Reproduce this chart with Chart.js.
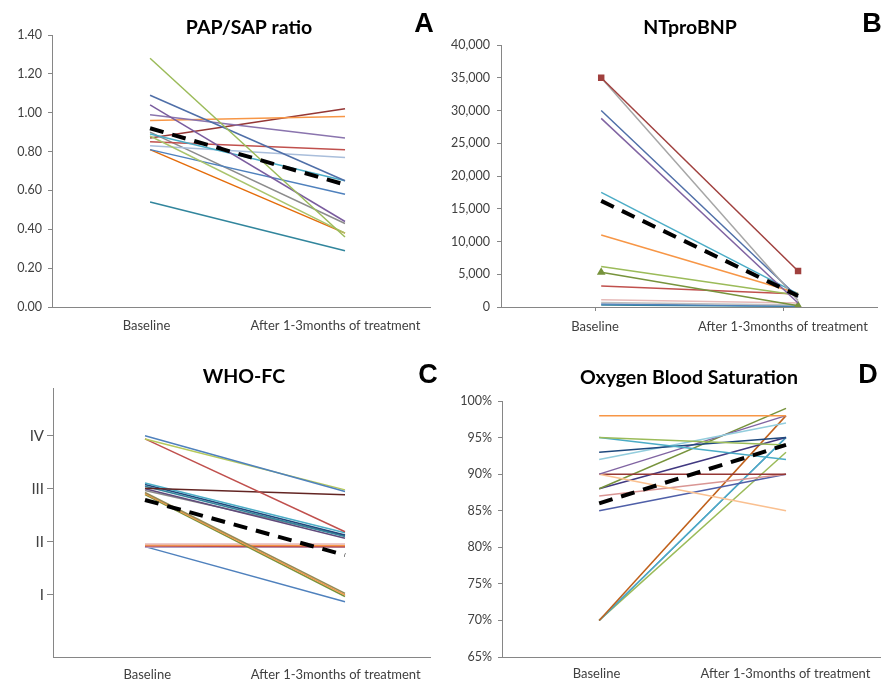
<!DOCTYPE html>
<html>
<head>
<meta charset="utf-8">
<script src="https://cdn.jsdelivr.net/npm/chart.js@4.4.1/dist/chart.umd.min.js"></script>
<style>
  body { margin: 0; background: #fff; }
  #wrap { position: relative; width: 883px; height: 682px; }
  canvas { position: absolute; }
</style>
</head>
<body>
<div id="wrap">
  <canvas id="chartA" width="440" height="340" style="left:0;top:0"></canvas>
  <canvas id="chartB" width="443" height="340" style="left:440px;top:0"></canvas>
  <canvas id="chartC" width="440" height="342" style="left:0;top:340px"></canvas>
  <canvas id="chartD" width="443" height="342" style="left:440px;top:340px"></canvas>
</div>
<script>
const categories = ["Baseline", "After 1-3months of treatment"];

// A - PAP/SAP ratio
const papBaseline = [1.28, 1.09, 1.04, 0.99, 0.96, 0.89, 0.88, 0.87, 0.85, 0.83, 0.81, 0.81, 0.90, 0.54];
const papAfter    = [0.36, 0.65, 0.44, 0.87, 0.98, 0.65, 0.38, 1.02, 0.81, 0.77, 0.58, 0.38, 0.43, 0.29];
const papMean     = [0.92, 0.63];
const papColors = ["#9BBB59", "#4F6FA8", "#7A5C9E", "#8A74AE", "#F79646", "#4BACC6", "#A9C46C",
                   "#953735", "#C0504D", "#A9BEDB", "#4F81BD", "#E46C0A", "#8C8C8C", "#31859C"];

// B - NTproBNP
const bnpBaseline = [35000, 35000, 30000, 28800, 17500, 11000, 6200, 5300, 3200, 1100, 700, 450, 300];
const bnpAfter    = [5500, 1000, 1500, 600, 2000, 2100, 1800, 200, 2000, 600, 300, 150, 100];
const bnpMean     = [16200, 1700];
const bnpColors = ["#A0403E", "#A6A6A6", "#4F6FA8", "#8064A2", "#4BACC6", "#F79646", "#9BBB59",
                   "#77933C", "#C0504D", "#E6B9B8", "#BFBFBF", "#4F81BD", "#31859C"];

// C - WHO-FC
const whoBaseline = [4.0, 3.94, 3.94, 3.01, 3.11, 3.08, 3.05, 3.0, 2.97, 2.93, 2.91, 2.89, 1.96, 1.94, 1.92, 1.9, 1.91];
const whoAfter    = [2.95, 2.98, 2.19, 2.89, 2.17, 2.13, 2.1, 2.07, 2.12, 1.03, 1.0, 0.97, 1.96, 1.93, 1.91, 1.9, 0.87];
const whoMean     = [2.79, 1.75];
const whoTickValues = [1, 2, 3, 4];
const whoTickLabels = ["I", "II", "III", "IV"];
const whoColors = ["#4F81BD", "#B5C95A", "#C0504D", "#632523", "#4BACC6", "#1F497D", "#31859C", "#604A7B",
                   "#8C8C8C", "#948A54", "#F79646", "#77933C", "#E6B9B8", "#F79646", "#C0504D", "#B3A2C7", "#4F81BD"];

// D - Oxygen blood saturation (%)
const o2Baseline = [98, 95, 95, 93, 92, 90, 90, 90, 88, 88, 87, 85, 70, 70, 70, 70];
const o2After    = [98, 94, 92, 95, 97, 98, 85, 90, 99, 95, 90, 90, 98, 95, 95, 93];
const o2Mean     = [86, 94];
const o2Colors = ["#F79646", "#9BBB59", "#4BACC6", "#1F497D", "#93CDDD", "#8064A2", "#FAC090", "#953735",
                  "#77933C", "#403880", "#D99694", "#4F5FA8", "#C0601A", "#4BACC6", "#4F81BD", "#9BBB59"];

const axisColor = "#868686";
const textColor = "#404040";
Chart.defaults.font.family = "Lato, 'Liberation Sans', sans-serif";

// draws the panel title and the big letter
const panelText = {
  id: "panelText",
  afterDraw(chart, args, opts) {
    const ctx = chart.ctx;
    ctx.save();
    ctx.fillStyle = "#000";
    ctx.textAlign = "center";
    ctx.textBaseline = "middle";
    ctx.font = "bold 19.5px Lato, 'Liberation Sans', sans-serif";
    ctx.fillText(opts.title, opts.titleX, opts.titleY);
    ctx.font = "bold 27px 'Liberation Sans', sans-serif";
    ctx.fillText(opts.letter, opts.letterX, opts.letterY);
    ctx.restore();
  },
};

// each line goes from category 0 (Baseline) to category 1 (After)
function buildDatasets(base, after, mean, colors, extra) {
  const sets = [{
    data: [{ x: 0, y: mean[0] }, { x: 1, y: mean[1] }],
    xAxisID: "xd",
    borderColor: "#000",
    borderWidth: 4,
    borderDash: [14, 9],
    pointRadius: 0,
  }];
  base.forEach((b, i) => {
    const ds = {
      data: [{ x: 0, y: b }, { x: 1, y: after[i] }],
      xAxisID: "xd",
      borderColor: colors[i],
      borderWidth: 1.5,
      pointRadius: 0,
    };
    if (extra && extra[i]) Object.assign(ds, extra[i]);
    sets.push(ds);
  });
  return sets;
}

function makeChart(id, datasets, cfg) {
  return new Chart(document.getElementById(id), {
    type: "line",
    data: { labels: categories, datasets: datasets },
    plugins: [panelText],
    options: {
      responsive: false,
      animation: false,
      layout: { padding: { top: cfg.top, right: cfg.right, left: 0, bottom: 0 } },
      plugins: {
        legend: { display: false },
        tooltip: { enabled: false },
        panelText: cfg.text,
      },
      scales: {
        x: {
          type: "category",
          offset: true,
          grid: {
            display: !!cfg.xTicks,
            drawOnChartArea: false,
            drawTicks: !!cfg.xTicks,
            tickLength: cfg.xTicks ? 4 : 0,
            color: axisColor,
          },
          border: { color: axisColor, width: 1 },
          ticks: {
            color: textColor,
            font: { size: 13 },
            padding: cfg.xPad,
            maxRotation: 0,
            autoSkip: false,
          },
          afterFit: (s) => { s.height = cfg.xHeight; },
        },
        // hidden axis that places the two time points like the original figure
        xd: {
          type: "linear",
          display: false,
          min: cfg.xMin,
          max: cfg.xMax,
        },
        y: {
          min: cfg.min,
          max: cfg.max,
          grid: { drawOnChartArea: false, tickLength: cfg.tickLen || 4, color: axisColor },
          border: { color: axisColor, width: 1 },
          ticks: {
            stepSize: cfg.step,
            color: textColor,
            font: { size: cfg.yFont || 12.5 },
            padding: cfg.yPad,
            callback: cfg.fmt,
          },
          afterBuildTicks: cfg.buildTicks,
          afterFit: (s) => { s.width = cfg.yWidth; },
        },
      },
    },
  });
}

makeChart("chartA", buildDatasets(papBaseline, papAfter, papMean, papColors), {
  top: 35, right: 10, xHeight: 33, xPad: 11, yWidth: 52, yPad: 6,
  xMin: -0.503, xMax: 1.436,
  min: 0, max: 1.4, step: 0.2,
  fmt: (v) => v.toFixed(2),
  text: { title: "PAP/SAP ratio", titleX: 249, titleY: 28, letter: "A", letterX: 424, letterY: 25 },
});

makeChart("chartB", buildDatasets(bnpBaseline, bnpAfter, bnpMean, bnpColors, {
  0: { pointStyle: "rect", pointRadius: 3.5, pointBackgroundColor: "#A0403E", pointBorderColor: "#A0403E" },
  7: { pointStyle: "triangle", pointRadius: 3.5, pointBackgroundColor: "#77933C", pointBorderColor: "#77933C" },
}), {
  top: 45, right: 6, xHeight: 33, xPad: 8, xTicks: true, yWidth: 61, yPad: 7,
  xMin: -0.509, xMax: 1.401,
  min: 0, max: 40000, step: 5000,
  fmt: (v) => v.toLocaleString("en-US"),
  text: { title: "NTproBNP", titleX: 250, titleY: 28, letter: "B", letterX: 432, letterY: 25 },
});

makeChart("chartC", buildDatasets(whoBaseline, whoAfter, whoMean, whoColors), {
  top: 48, right: 10, xHeight: 25, xPad: 10, yWidth: 53, yPad: 3, tickLen: 6, yFont: 15,
  xMin: -0.46, xMax: 1.425,
  min: -0.17, max: 4.9,
  buildTicks: (s) => { s.ticks = whoTickValues.map((v) => ({ value: v })); },
  fmt: (v, i) => whoTickLabels[i],
  text: { title: "WHO-FC", titleX: 244, titleY: 37, letter: "C", letterX: 428, letterY: 36 },
});

makeChart("chartD", buildDatasets(o2Baseline, o2After, o2Mean, o2Colors), {
  top: 61, right: 3, xHeight: 25, xPad: 9, yWidth: 62, yPad: 6,
  xMin: -0.52, xMax: 1.503,
  min: 65, max: 100, step: 5,
  fmt: (v) => v + "%",
  text: { title: "Oxygen Blood Saturation", titleX: 249, titleY: 38, letter: "D", letterX: 428, letterY: 36 },
});
</script>
</body>
</html>
